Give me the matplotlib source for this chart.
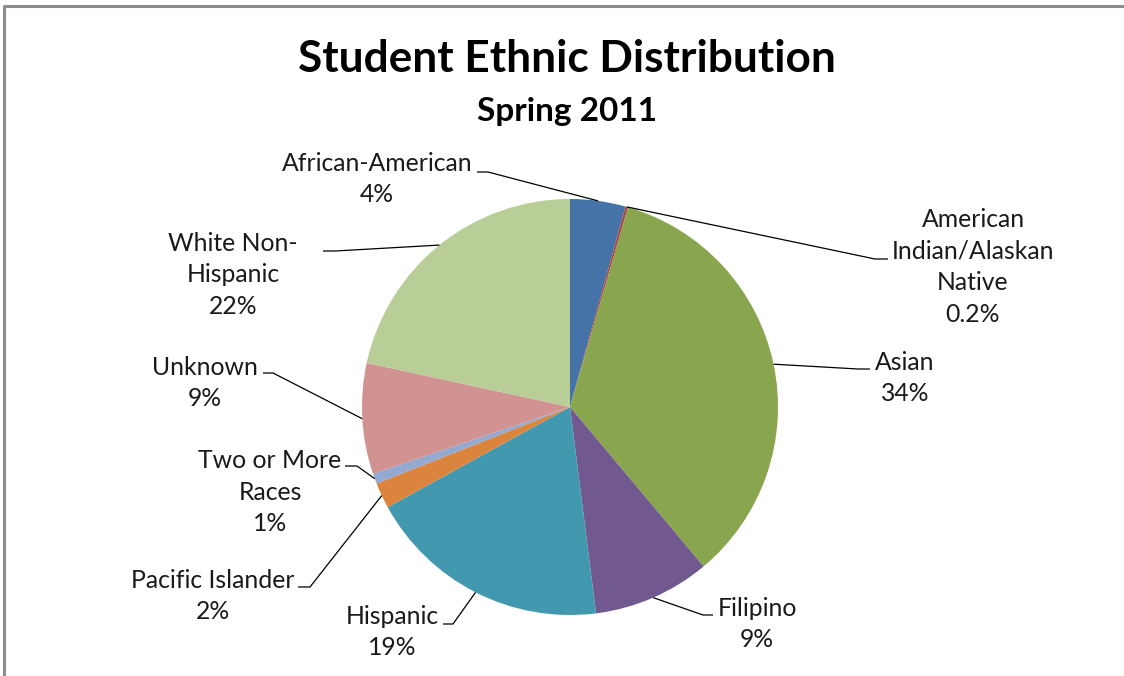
import numpy as np
import matplotlib
matplotlib.use('Agg')
import matplotlib.pyplot as plt

plt.rcParams['font.family'] = ['Lato', 'DejaVu Sans']

# spring 2011 enrolment shares (%), clockwise from 12 o'clock
groups = ['African-American', 'American\nIndian/Alaskan\nNative', 'Asian', 'Filipino',
          'Hispanic', 'Pacific Islander', 'Two or More\nRaces', 'Unknown',
          'White Non-\nHispanic']
shares = [4.3, 0.2, 34.4, 9.1, 19.0, 2.0, 0.8, 8.6, 21.6]
colors = ['#4572A7', '#AA4643', '#89A54E', '#71588F', '#4198AF',
          '#DB843D', '#93A9CF', '#D19392', '#B9CD96']

W, H = 1124, 676
cx, cy, R = 570, H - 407, 208

# label centre, leader knee and leader end (px from top-left)
label_xy = [(377, 179), (973, 267), (905, 378), (757, 624), (392, 632),
            (213, 596), (270, 492), (205, 383), (233, 275)]
knees = [(488, 172), (875, 259), (858, 369), (703, 615), (453, 624),
         (310, 587), (357, 466), (273, 373), (335, 251)]
ends = [(477, 172), (888, 259), (870, 369), (713, 615), (443, 624),
        (298, 587), (345, 466), (263, 373), (323, 251)]

fig = plt.figure(figsize=(W / 100, H / 100), dpi=100)
ax = fig.add_axes([0, 0, 1, 1])

wedges, _ = ax.pie(shares, colors=colors, startangle=90, counterclock=False,
                   center=(cx, cy), radius=R, frame=True,
                   wedgeprops=dict(linewidth=0))
ax.set_xlim(0, W)
ax.set_ylim(0, H)
ax.set_aspect('equal')
ax.axis('off')

total = float(sum(shares))
cum = 0.0
for name, v, (lx, ly), (kx, ky), (ex, ey) in zip(groups, shares, label_xy, knees, ends):
    mid = (cum + v / 2) / total * 2 * np.pi
    cum += v
    px = cx + R * np.sin(mid)
    py = cy + R * np.cos(mid)
    ax.plot([px, kx, ex], [py, H - ky, H - ey], color='black', lw=0.9,
            solid_capstyle='butt')
    pct = '%.1f%%' % v if v < 0.5 else '%d%%' % round(v)
    ax.text(lx, H - ly, name + '\n' + pct, ha='center', va='center',
            fontsize=17.8, linespacing=1.44, color='#1a1a1a')

ax.text(567, H - 59, 'Student Ethnic Distribution', ha='center', va='center',
        fontsize=31.8, fontweight='bold')
ax.text(567, H - 111, 'Spring 2011', ha='center', va='center',
        fontsize=24, fontweight='bold')

# outer chart frame, only top and left visible
ax.plot([4, 4, W], [0, H - 6, H - 6], color='#8c8c8c', lw=2.2, clip_on=False)

fig.savefig('out.png', dpi=100)
